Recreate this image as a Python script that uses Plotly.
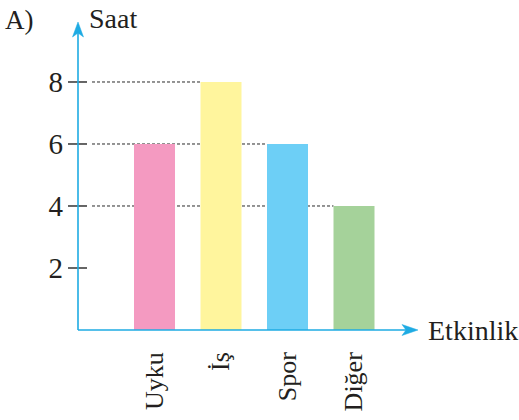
import plotly.graph_objects as go

# Daily hours per activity
activities = ["Uyku", "İş", "Spor", "Diğer"]
hours = [6, 8, 6, 4]
bar_colors = ["#F49AC1", "#FFF59D", "#6DCFF6", "#A5D29A"]
y_ticks = [2, 4, 6, 8]

W, H = 519, 420
L, R, T, B = 78, 101, 22, 90
plot_w = W - L - R
plot_h = H - T - B

AXIS = "#1EABE3"
INK = "#231F20"
FONT = "Liberation Serif"

# category spacing in px and position of first category from the y-axis
px_per_cat = 66.5
first_cat_px = 76.5
x_min = -first_cat_px / px_per_cat
x_max = x_min + plot_w / px_per_cat
y_max = 9.935
bar_w = 41 / px_per_cat

fig = go.Figure()
fig.add_trace(go.Bar(
    x=list(range(len(activities))), y=hours, width=bar_w,
    marker=dict(color=bar_colors, line=dict(width=0)),
    hoverinfo="skip",
))

shapes = []
# dashed guides from the y-axis to the left edge of the last bar with that height
dash_start = x_min + 14 / px_per_cat
for level in sorted(set(hours), reverse=True):
    idx = max(i for i, v in enumerate(hours) if v == level)
    shapes.append(dict(
        type="line", xref="x", yref="y", layer="below",
        x0=dash_start, x1=idx - bar_w / 2, y0=level, y1=level,
        line=dict(color="#2A2A2A", width=1, dash="3px,2px"),
    ))

# tick marks crossing the y-axis
for t in y_ticks:
    shapes.append(dict(
        type="line", xref="paper", yref="y", xsizemode="pixel", xanchor=0,
        x0=-10, x1=9, y0=t, y1=t, line=dict(color="#333333", width=1.5),
    ))

# axis lines
shapes.append(dict(type="line", xref="paper", yref="paper", x0=0, x1=0, y0=0, y1=0.985,
                   line=dict(color=AXIS, width=1.6)))
shapes.append(dict(type="line", xref="paper", yref="paper", x0=0, x1=0.985, y0=0, y1=0,
                   line=dict(color=AXIS, width=1.6)))
# arrowheads
shapes.append(dict(
    type="path", xref="paper", yref="paper", xsizemode="pixel", ysizemode="pixel",
    xanchor=0, yanchor=1, path="M 0 0 L -5.5 -15 L 0 -11 L 5.5 -15 Z",
    fillcolor=AXIS, line=dict(color=AXIS, width=0.5),
))
shapes.append(dict(
    type="path", xref="paper", yref="paper", xsizemode="pixel", ysizemode="pixel",
    xanchor=1, yanchor=0, path="M 0 0 L -16 5.5 L -12 0 L -16 -5.5 Z",
    fillcolor=AXIS, line=dict(color=AXIS, width=0.5),
))

annotations = [
    dict(text="A)", xref="paper", yref="paper", x=-L / plot_w + 3 / plot_w, y=1 + 2 / plot_h,
         xanchor="left", yanchor="middle", showarrow=False,
         font=dict(family=FONT, size=27, color=INK)),
    dict(text="Saat", xref="paper", yref="paper", x=9 / plot_w, y=1 + 4 / plot_h,
         xanchor="left", yanchor="middle", showarrow=False,
         font=dict(family=FONT, size=28, color=INK)),
    dict(text="Etkinlik", xref="paper", yref="paper", x=1 + 8 / plot_w, y=0,
         xanchor="left", yanchor="middle", showarrow=False,
         font=dict(family=FONT, size=28, color=INK)),
]

fig.update_layout(
    width=W, height=H,
    margin=dict(l=L, r=R, t=T, b=B, pad=0, autoexpand=False),
    paper_bgcolor="white", plot_bgcolor="white",
    showlegend=False,
    shapes=shapes, annotations=annotations,
    xaxis=dict(
        range=[x_min, x_max], tickmode="array",
        tickvals=list(range(len(activities))), ticktext=activities,
        tickangle=-90, ticks="", showline=False, showgrid=False, zeroline=False,
        tickfont=dict(family=FONT, size=26, color=INK), ticklabelstandoff=16,
        automargin=False, fixedrange=True,
    ),
    yaxis=dict(
        range=[0, y_max], tickmode="array", tickvals=y_ticks,
        ticktext=[str(t) for t in y_ticks],
        ticks="", showline=False, showgrid=False, zeroline=False,
        tickfont=dict(family=FONT, size=29, color=INK), ticklabelstandoff=14,
        automargin=False, fixedrange=True,
    ),
)

fig.write_html("out.html")
